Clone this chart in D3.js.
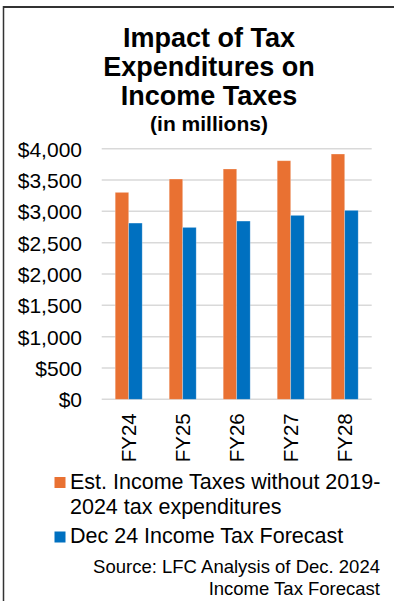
<!DOCTYPE html>
<html>
<head>
<meta charset="utf-8">
<script src="https://cdn.jsdelivr.net/npm/d3@7"></script>
<style>
  html, body { margin: 0; padding: 0; background: #fff; }
  svg { display: block; font-family: "Liberation Sans", Arial, sans-serif; }
</style>
</head>
<body>
<svg id="chart" width="394" height="601"></svg>
<script>
// Fiscal years on the x axis
const categories = ["FY24", "FY25", "FY26", "FY27", "FY28"];
// Income tax revenue, $ millions
const withoutExpenditures = [3303, 3516, 3676, 3808, 3915];
const decForecast = [2813, 2744, 2845, 2936, 3016];
// Y axis ticks
const yTicks = [0, 500, 1000, 1500, 2000, 2500, 3000, 3500, 4000];

const seriesNames = [
  ["Est. Income Taxes without 2019-", "2024 tax expenditures"],
  ["Dec 24 Income Tax Forecast"]
];
const titleLines = ["Impact of Tax", "Expenditures on", "Income Taxes"];
const subtitle = "(in millions)";
const sourceLines = ["Source: LFC Analysis of Dec. 2024", "Income Tax Forecast"];

const ORANGE = "#E97132";
const BLUE = "#0070C0";

const svg = d3.select("#chart");
svg.append("rect").attr("width", 394).attr("height", 601).attr("fill", "#fff");

// Frame: top and left rules
svg.append("line").attr("x1", 3).attr("x2", 394).attr("y1", 7).attr("y2", 7)
  .attr("stroke", "#333").attr("stroke-width", 2);
svg.append("line").attr("x1", 3.5).attr("x2", 3.5).attr("y1", 6).attr("y2", 601)
  .attr("stroke", "#333").attr("stroke-width", 1.5);

// Title block
const title = svg.append("g").attr("text-anchor", "middle").attr("fill", "#000")
  .attr("font-weight", "bold");
titleLines.forEach((t, i) => {
  title.append("text").attr("x", 209).attr("y", 47 + i * 29)
    .attr("font-size", 27).text(t);
});
title.append("text").attr("x", 209).attr("y", 131).attr("font-size", 21).text(subtitle);

// Scales
const x = d3.scaleBand().domain(categories).range([101.7, 371.7])
  .paddingInner(0.5).paddingOuter(0.25);
const x1 = d3.scaleBand().domain([0, 1]).range([0, x.bandwidth()]);
const y = d3.scaleLinear().domain([0, 4000]).range([399.3, 148.7]);

// Gridlines
svg.append("g").selectAll("line").data(yTicks).join("line")
  .attr("x1", 101.7).attr("x2", 371.7)
  .attr("y1", d => y(d)).attr("y2", d => y(d))
  .attr("stroke", "#d9d9d9").attr("stroke-width", 1.5);

// Y axis labels
const yAxis = d3.axisLeft(y).tickValues(yTicks).tickSize(0).tickPadding(0)
  .tickFormat(d => "$" + d3.format(",")(d));
const yg = svg.append("g").attr("transform", "translate(82,0)").call(yAxis);
yg.select(".domain").remove();
yg.selectAll("text").attr("font-size", 21).attr("fill", "#000")
  .attr("font-family", "\"Liberation Sans\", Arial, sans-serif").attr("dy", "0.36em");

// Bars
const series = [withoutExpenditures, decForecast];
const colors = [ORANGE, BLUE];
series.forEach((vals, s) => {
  svg.append("g").selectAll("rect").data(vals).join("rect")
    .attr("x", (d, i) => x(categories[i]) + x1(s))
    .attr("width", x1.bandwidth())
    .attr("y", d => y(d))
    .attr("height", d => y(0) - y(d))
    .attr("fill", colors[s])
    .attr("stroke", "#fff").attr("stroke-opacity", 0.35).attr("stroke-width", 0.75);
});

// X axis labels, rotated
const xAxis = d3.axisBottom(x).tickSize(0).tickPadding(0);
const xg = svg.append("g").attr("transform", `translate(0,${y(0)})`).call(xAxis);
xg.select(".domain").remove();
xg.selectAll("text")
  .attr("font-size", 20.5).attr("fill", "#000")
  .attr("font-family", "\"Liberation Sans\", Arial, sans-serif")
  .attr("text-anchor", "end")
  .attr("transform", "rotate(-90)")
  .attr("x", -14).attr("y", 0).attr("dy", "0.36em");

// Legend
const legend = svg.append("g").attr("font-size", 21.5).attr("fill", "#000");
const legendRows = [{ y: 488.5, sq: 477 }, { y: 543, sq: 531.5 }];
seriesNames.forEach((lines, s) => {
  legend.append("rect").attr("x", 54.5).attr("y", legendRows[s].sq)
    .attr("width", 11).attr("height", 11).attr("fill", colors[s]);
  lines.forEach((t, j) => {
    legend.append("text").attr("x", 70).attr("y", legendRows[s].y + j * 25).text(t);
  });
});

// Source note
const src = svg.append("g").attr("text-anchor", "end").attr("font-size", 18.5).attr("fill", "#000");
sourceLines.forEach((t, i) => {
  src.append("text").attr("x", 380).attr("y", 573 + i * 22).text(t);
});
</script>
</body>
</html>
